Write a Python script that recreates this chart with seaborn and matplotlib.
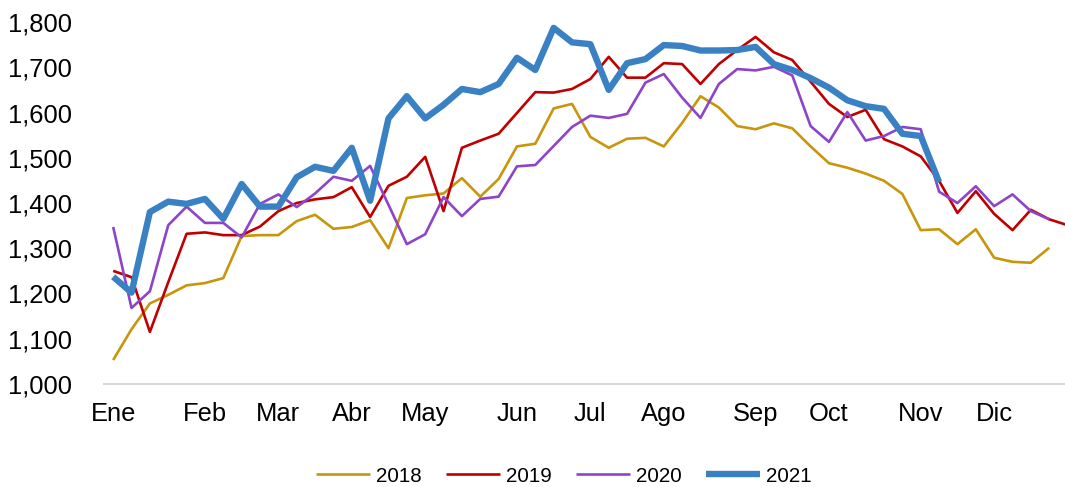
import numpy as np
import pandas as pd
import matplotlib
matplotlib.use('Agg')
import matplotlib.pyplot as plt
import seaborn as sns

# weekly values
v2018 = [1053, 1121, 1178, 1197, 1218, 1223, 1234, 1327, 1329, 1329,
         1360, 1374, 1343, 1347, 1362, 1300, 1411, 1417, 1421, 1455,
         1414, 1453, 1525, 1531, 1609, 1619, 1546, 1522, 1542, 1544,
         1525, 1577, 1636, 1611, 1570, 1563, 1576, 1565, 1525, 1488,
         1478, 1465, 1449, 1420, 1340, 1342, 1309, 1342, 1279, 1270,
         1268, 1301]
v2019 = [1250, 1236, 1115, 1225, 1332, 1335, 1329, 1329, 1348, 1382,
         1400, 1408, 1413, 1435, 1369, 1438, 1458, 1502, 1382, 1522,
         1538, 1553, 1599, 1645, 1644, 1652, 1674, 1723, 1677, 1677,
         1709, 1707, 1663, 1707, 1738, 1767, 1733, 1716, 1668, 1619,
         1590, 1606, 1541, 1525, 1503, 1449, 1378, 1426, 1376, 1340,
         1385, 1364, 1351]
v2020 = [1347, 1168, 1205, 1351, 1392, 1356, 1356, 1324, 1398, 1419,
         1391, 1421, 1458, 1449, 1482, 1396, 1309, 1331, 1413, 1371,
         1409, 1414, 1481, 1484, 1526, 1568, 1593, 1588, 1597, 1666,
         1685, 1633, 1588, 1663, 1696, 1693, 1701, 1682, 1570, 1535,
         1601, 1538, 1548, 1568, 1563, 1425, 1400, 1437, 1393, 1419,
         1382, 1364]
v2021 = [1237, 1202, 1380, 1403, 1398, 1409, 1365, 1442, 1392, 1392,
         1457, 1480, 1471, 1522, 1405, 1587, 1636, 1587, 1617, 1652,
         1645, 1663, 1721, 1694, 1787, 1755, 1751, 1650, 1709, 1718,
         1749, 1747, 1737, 1737, 1738, 1745, 1707, 1694, 1676, 1655,
         1627, 1614, 1608, 1553, 1548, 1446]

months = ['Ene', 'Feb', 'Mar', 'Abr', 'May', 'Jun', 'Jul', 'Ago', 'Sep', 'Oct', 'Nov', 'Dic']
month_weeks = [0, 5, 9, 13, 17, 22, 26, 30, 35, 39, 44, 48]

series = [('2018', v2018, '#C8960C', 1.9),
          ('2019', v2019, '#C00000', 1.9),
          ('2020', v2020, '#8E44C8', 1.9),
          ('2021', v2021, '#3A81C3', 4.6)]

sns.set_style('white')
plt.rcParams['font.family'] = ['Liberation Sans', 'DejaVu Sans']
plt.rcParams['text.color'] = 'black'
plt.rcParams['xtick.color'] = 'black'
plt.rcParams['ytick.color'] = 'black'

fig = plt.figure(figsize=(10.65, 4.87), dpi=100)
ax = fig.add_axes([104/1065, 103/487, 1 - 104/1065, 362/487])

for name, vals, col, lw in series:
    sns.lineplot(x=np.arange(len(vals)), y=vals, ax=ax, color=col, linewidth=lw,
                 label=name, solid_joinstyle='round', solid_capstyle='butt')

ax.set_xlim(-0.5, 51.86)
ax.set_ylim(1000, 1800)
ax.set_yticks(range(1000, 1801, 100))
ax.set_yticklabels([f'{v:,}' for v in range(1000, 1801, 100)])
ax.set_xticks(month_weeks)
ax.set_xticklabels(months)
ax.tick_params(axis='y', length=0, pad=23, labelsize=18.4, labelcolor='black')
ax.tick_params(axis='x', length=0, pad=13, labelsize=18.4, labelcolor='black')
ax.set_xlabel('')
ax.set_ylabel('')
for s in ['left', 'top', 'right']:
    ax.spines[s].set_visible(False)
ax.spines['bottom'].set_color('#D9D9D9')
ax.spines['bottom'].set_linewidth(1.5)

handles, labels = ax.get_legend_handles_labels()
ax.get_legend().remove()
leg = fig.legend(handles, labels, loc='center', bbox_to_anchor=(564/1065, 1 - 476/487),
                 ncol=4, frameon=False, fontsize=14.8, handlelength=2.6,
                 handletextpad=0.3, columnspacing=1.2)
for t in leg.get_texts():
    t.set_color('black')

fig.savefig('out.png', dpi=100)
